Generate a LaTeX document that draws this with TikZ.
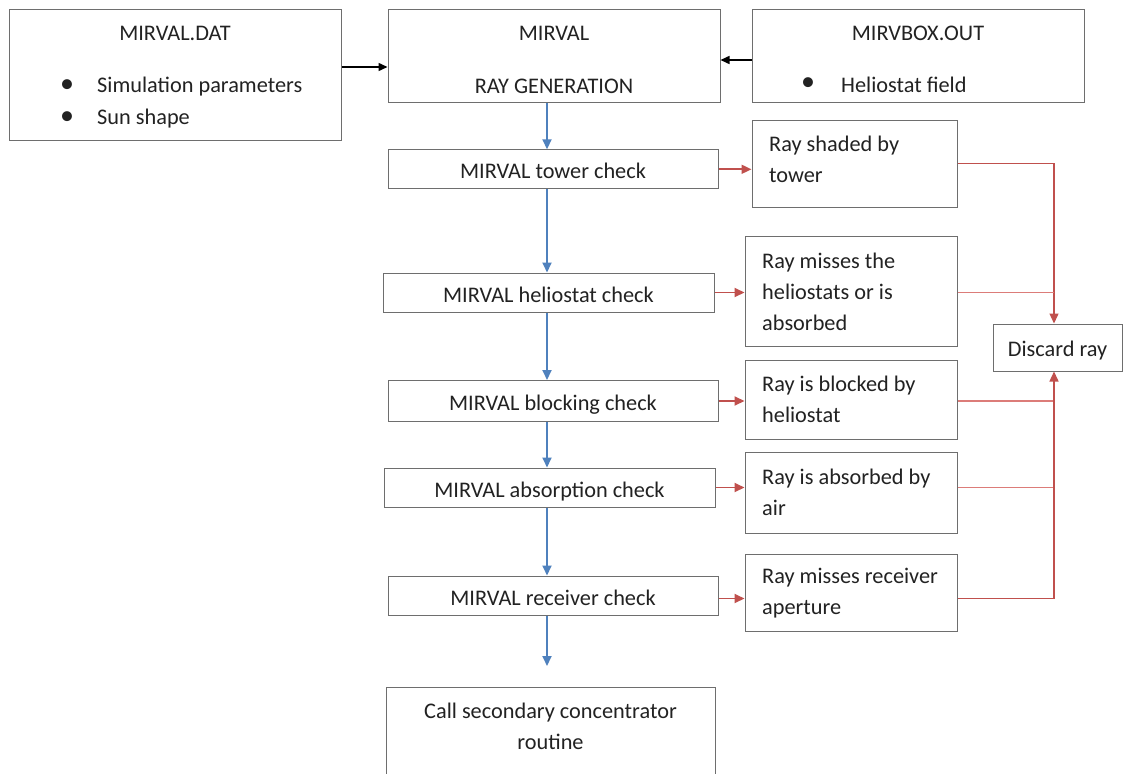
\documentclass[tikz,border=0pt]{standalone}
\usepackage{fontspec}
\setmainfont{Carlito}
\usetikzlibrary{arrows.meta,calc}
\definecolor{bord}{HTML}{6E6E6E}
\definecolor{txt}{HTML}{222222}
\definecolor{ared}{HTML}{C0504D}
\definecolor{alred}{HTML}{DC7C79}
\definecolor{ablue}{HTML}{4F81BD}
\begin{document}
\begin{tikzpicture}[x=1pt,y=-1pt,
  every node/.style={font=\fontsize{22.3}{31}\selectfont, text=txt},
  box/.style={draw=bord, line width=1pt, inner sep=0pt},
  chk/.style={box, text height=19pt, text depth=0pt},
  bul/.style={font=\fontsize{28}{28}\selectfont, inner sep=0pt},
  rt/.style={anchor=west, align=left, inner sep=0pt},
  lt/.style={anchor=west, inner sep=0pt},
  karr/.style={draw=black, line width=1.5pt, -{Triangle[length=9pt,width=8pt]}},
  barr/.style={draw=ablue, line width=1.8pt, -{Triangle[length=10pt,width=9pt]}},
  rarr/.style={draw=ared, line width=1.8pt, -{Triangle[length=10pt,width=9pt]}},
  rline/.style={draw=alred, line width=1.4pt},
  rtip/.style={draw=ared, line width=1.4pt, -{Triangle[length=10pt,width=9pt]}}]
\useasboundingbox (0,0) rectangle (1123,773);
\clip (0,0) rectangle (1123,773);
\fill[white] (0,0) rectangle (1123,773);

% top row
\node[box, minimum width=332pt, minimum height=130pt] (dat) at (175,75) {};
\node (datt) at (175,33) {MIRVAL.DAT};
\node[bul] (b1) at (67,86) {\textbullet};
\node[lt] (sim) at (97,87) {Simulation parameters};
\node[bul] (b2) at (67,118) {\textbullet};
\node[lt] (sun) at (97,119) {Sun shape};

\node[box, minimum width=332pt, minimum height=93pt] (gen) at (554,56.5) {};
\node (gent) at (554,33) {MIRVAL};
\node (gens) at (554,86) {RAY GENERATION};

\node[box, minimum width=332pt, minimum height=93pt] (mbox) at (918,56.5) {};
\node (mboxt) at (918,33) {MIRVBOX.OUT};
\node[bul] (b3) at (808,84) {\textbullet};
\node[lt] (hf) at (841,85) {Heliostat field};

% checks
\node[chk, minimum width=330pt, minimum height=39pt] (tower) at (553,169.3) {MIRVAL tower check};
\node[chk, minimum width=331pt, minimum height=39pt] (helio) at (548.5,292.5) {MIRVAL heliostat check};
\node[chk, minimum width=330pt, minimum height=41pt] (block) at (553,401) {MIRVAL blocking check};
\node[chk, minimum width=331pt, minimum height=39pt] (absorp) at (549.5,487.5) {MIRVAL absorption check};
\node[chk, minimum width=330pt, minimum height=39pt] (recv) at (553,595.5) {MIRVAL receiver check};
\node[box, minimum width=329pt, minimum height=120pt, anchor=north] (call) at (550.5,687) {};
\node[align=center, inner sep=0pt] (callt) at (550.5,726) {Call secondary concentrator\\routine};

% outcomes
\node[box, minimum width=205pt, minimum height=87pt] (shaded) at (854.5,163.5) {};
\node[rt] (shadedt) at (769,159) {Ray shaded by\\tower};
\node[box, minimum width=212pt, minimum height=110pt] (misses) at (851,291) {};
\node[rt] (missest) at (762,291.5) {Ray misses the\\heliostats or is\\absorbed};
\node[box, minimum width=212pt, minimum height=79pt] (blocked) at (851,399.5) {};
\node[rt] (blockedt) at (762,399) {Ray is blocked by\\heliostat};
\node[box, minimum width=212pt, minimum height=81pt] (absorbed) at (851,492.5) {};
\node[rt] (absorbedt) at (762,492) {Ray is absorbed by\\air};
\node[box, minimum width=212pt, minimum height=77pt] (rmiss) at (851,592.5) {};
\node[rt] (rmisst) at (762,593) {Ray misses receiver\\aperture};

\node[box, minimum width=129pt, minimum height=47pt, text height=17pt, text depth=0pt] (discard) at (1057.5,347.5) {Discard ray};

% black arrows
\draw[karr] ([yshift=8pt]dat.east) -- ([yshift=8pt]dat.east -| gen.west);
\draw[karr] ([yshift=-3.5pt]mbox.west) -- ([yshift=-3.5pt]mbox.west -| gen.east);

% blue arrows
\coordinate (ax) at (547,0);
\coordinate (cend) at (547,666);
\draw[barr] (gen.south -| ax) -- (tower.north -| ax);
\draw[barr] (tower.south -| ax) -- (helio.north -| ax);
\draw[barr] (helio.south -| ax) -- (block.north -| ax);
\draw[barr] (block.south -| ax) -- (absorp.north -| ax);
\draw[barr] (absorp.south -| ax) -- (recv.north -| ax);
\draw[barr] (recv.south -| ax) -- (cend);

% red arrows
\draw[rarr] (tower.east) -- (tower.east -| shaded.west);
\draw[rarr] (helio.east) -- (helio.east -| misses.west);
\draw[rarr] (block.east) -- (block.east -| blocked.west);
\draw[rarr] (absorp.east) -- (absorp.east -| absorbed.west);
\draw[rarr] ([yshift=-3pt]recv.east) -- ([yshift=-3pt]recv.east -| rmiss.west);

% discard lines
\coordinate (tr) at ($(discard.center)+(-3.5,0)$);
\draw[rtip] (shaded.east) -| (tr |- discard.north);
\draw[rline] (misses.east |- helio.east) -- (tr |- helio.east);
\draw[rline] (blocked.east |- block.east) -- (tr |- block.east);
\draw[rline] (absorbed.east |- absorp.east) -- (tr |- absorp.east);
\draw[rtip] ([yshift=-3pt]rmiss.east |- recv.east) -| (tr |- discard.south);
\end{tikzpicture}
\end{document}
